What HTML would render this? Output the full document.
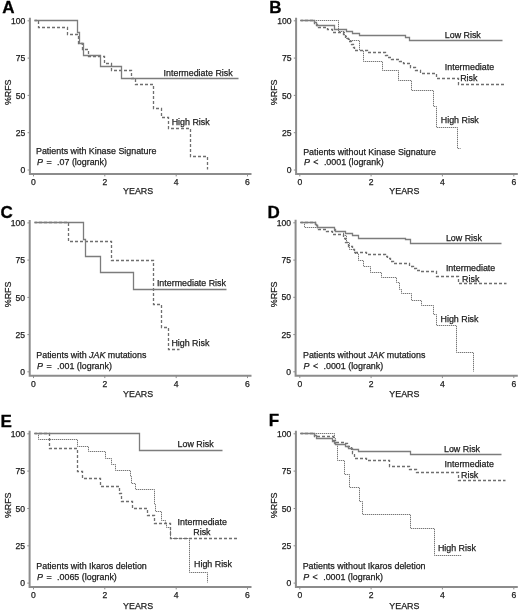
<!DOCTYPE html>
<html><head><meta charset="utf-8"><style>
html,body{margin:0;padding:0;background:#fff;}
svg{display:block;filter:grayscale(1);}
text{font-family:"Liberation Sans",sans-serif;fill:#1c1c1c;stroke:#1c1c1c;stroke-width:0.25px;}
</style></head><body>
<svg width="520" height="611" viewBox="0 0 520 611">
<rect width="520" height="611" fill="#fff"/>
<g>
<path d="M29.9,17.8V174.0H251.5" fill="none" stroke="#8c8c8c" stroke-width="2.0"/>
<path d="M27.6,170.0H29.9" stroke="#8c8c8c" stroke-width="1"/>
<text x="25.3" y="173.1" font-size="8.6" text-anchor="end" >0</text>
<path d="M27.6,132.7H29.9" stroke="#8c8c8c" stroke-width="1"/>
<text x="25.3" y="135.8" font-size="8.6" text-anchor="end" >25</text>
<path d="M27.6,95.4H29.9" stroke="#8c8c8c" stroke-width="1"/>
<text x="25.3" y="98.5" font-size="8.6" text-anchor="end" >50</text>
<path d="M27.6,58.1H29.9" stroke="#8c8c8c" stroke-width="1"/>
<text x="25.3" y="61.2" font-size="8.6" text-anchor="end" >75</text>
<path d="M27.6,20.8H29.9" stroke="#8c8c8c" stroke-width="1"/>
<text x="25.3" y="23.9" font-size="8.6" text-anchor="end" >100</text>
<path d="M33.5,174.0V176.4" stroke="#8c8c8c" stroke-width="1"/>
<text x="33.5" y="184.5" font-size="8.6" text-anchor="middle" >0</text>
<path d="M104.8,174.0V176.4" stroke="#8c8c8c" stroke-width="1"/>
<text x="104.8" y="184.5" font-size="8.6" text-anchor="middle" >2</text>
<path d="M176.2,174.0V176.4" stroke="#8c8c8c" stroke-width="1"/>
<text x="176.2" y="184.5" font-size="8.6" text-anchor="middle" >4</text>
<path d="M247.5,174.0V176.4" stroke="#8c8c8c" stroke-width="1"/>
<text x="247.5" y="184.5" font-size="8.6" text-anchor="middle" >6</text>
<text x="138.1" y="194.2" font-size="8.9" text-anchor="middle" >YEARS</text>
<text x="11.1" y="92.3" font-size="8.9" text-anchor="middle" transform="rotate(-90 11.1 92.3)">%RFS</text>
<path d="M296.1,17.8V174.0H517.8" fill="none" stroke="#8c8c8c" stroke-width="2.0"/>
<path d="M293.8,170.0H296.1" stroke="#8c8c8c" stroke-width="1"/>
<text x="291.5" y="173.1" font-size="8.6" text-anchor="end" >0</text>
<path d="M293.8,132.7H296.1" stroke="#8c8c8c" stroke-width="1"/>
<text x="291.5" y="135.8" font-size="8.6" text-anchor="end" >25</text>
<path d="M293.8,95.4H296.1" stroke="#8c8c8c" stroke-width="1"/>
<text x="291.5" y="98.5" font-size="8.6" text-anchor="end" >50</text>
<path d="M293.8,58.1H296.1" stroke="#8c8c8c" stroke-width="1"/>
<text x="291.5" y="61.2" font-size="8.6" text-anchor="end" >75</text>
<path d="M293.8,20.8H296.1" stroke="#8c8c8c" stroke-width="1"/>
<text x="291.5" y="23.9" font-size="8.6" text-anchor="end" >100</text>
<path d="M299.8,174.0V176.4" stroke="#8c8c8c" stroke-width="1"/>
<text x="299.8" y="184.5" font-size="8.6" text-anchor="middle" >0</text>
<path d="M371.1,174.0V176.4" stroke="#8c8c8c" stroke-width="1"/>
<text x="371.1" y="184.5" font-size="8.6" text-anchor="middle" >2</text>
<path d="M442.4,174.0V176.4" stroke="#8c8c8c" stroke-width="1"/>
<text x="442.4" y="184.5" font-size="8.6" text-anchor="middle" >4</text>
<path d="M513.8,174.0V176.4" stroke="#8c8c8c" stroke-width="1"/>
<text x="513.8" y="184.5" font-size="8.6" text-anchor="middle" >6</text>
<text x="404.4" y="194.2" font-size="8.9" text-anchor="middle" >YEARS</text>
<text x="277.3" y="92.3" font-size="8.9" text-anchor="middle" transform="rotate(-90 277.3 92.3)">%RFS</text>
<path d="M29.7,219.9V375.7H251.5" fill="none" stroke="#8c8c8c" stroke-width="2.0"/>
<path d="M27.4,371.8H29.7" stroke="#8c8c8c" stroke-width="1"/>
<text x="25.1" y="374.9" font-size="8.6" text-anchor="end" >0</text>
<path d="M27.4,334.6H29.7" stroke="#8c8c8c" stroke-width="1"/>
<text x="25.1" y="337.7" font-size="8.6" text-anchor="end" >25</text>
<path d="M27.4,297.4H29.7" stroke="#8c8c8c" stroke-width="1"/>
<text x="25.1" y="300.5" font-size="8.6" text-anchor="end" >50</text>
<path d="M27.4,260.1H29.7" stroke="#8c8c8c" stroke-width="1"/>
<text x="25.1" y="263.2" font-size="8.6" text-anchor="end" >75</text>
<path d="M27.4,222.9H29.7" stroke="#8c8c8c" stroke-width="1"/>
<text x="25.1" y="226.0" font-size="8.6" text-anchor="end" >100</text>
<path d="M33.5,375.7V378.1" stroke="#8c8c8c" stroke-width="1"/>
<text x="33.5" y="386.6" font-size="8.6" text-anchor="middle" >0</text>
<path d="M104.8,375.7V378.1" stroke="#8c8c8c" stroke-width="1"/>
<text x="104.8" y="386.6" font-size="8.6" text-anchor="middle" >2</text>
<path d="M176.2,375.7V378.1" stroke="#8c8c8c" stroke-width="1"/>
<text x="176.2" y="386.6" font-size="8.6" text-anchor="middle" >4</text>
<path d="M247.5,375.7V378.1" stroke="#8c8c8c" stroke-width="1"/>
<text x="247.5" y="386.6" font-size="8.6" text-anchor="middle" >6</text>
<text x="138.1" y="397.1" font-size="8.9" text-anchor="middle" >YEARS</text>
<text x="10.9" y="294.4" font-size="8.9" text-anchor="middle" transform="rotate(-90 10.9 294.4)">%RFS</text>
<path d="M295.6,219.8V375.7H517.8" fill="none" stroke="#8c8c8c" stroke-width="2.0"/>
<path d="M293.3,371.8H295.6" stroke="#8c8c8c" stroke-width="1"/>
<text x="291.0" y="374.9" font-size="8.6" text-anchor="end" >0</text>
<path d="M293.3,334.6H295.6" stroke="#8c8c8c" stroke-width="1"/>
<text x="291.0" y="337.7" font-size="8.6" text-anchor="end" >25</text>
<path d="M293.3,297.3H295.6" stroke="#8c8c8c" stroke-width="1"/>
<text x="291.0" y="300.4" font-size="8.6" text-anchor="end" >50</text>
<path d="M293.3,260.1H295.6" stroke="#8c8c8c" stroke-width="1"/>
<text x="291.0" y="263.2" font-size="8.6" text-anchor="end" >75</text>
<path d="M293.3,222.8H295.6" stroke="#8c8c8c" stroke-width="1"/>
<text x="291.0" y="225.9" font-size="8.6" text-anchor="end" >100</text>
<path d="M299.8,375.7V378.1" stroke="#8c8c8c" stroke-width="1"/>
<text x="299.8" y="386.6" font-size="8.6" text-anchor="middle" >0</text>
<path d="M371.1,375.7V378.1" stroke="#8c8c8c" stroke-width="1"/>
<text x="371.1" y="386.6" font-size="8.6" text-anchor="middle" >2</text>
<path d="M442.4,375.7V378.1" stroke="#8c8c8c" stroke-width="1"/>
<text x="442.4" y="386.6" font-size="8.6" text-anchor="middle" >4</text>
<path d="M513.8,375.7V378.1" stroke="#8c8c8c" stroke-width="1"/>
<text x="513.8" y="386.6" font-size="8.6" text-anchor="middle" >6</text>
<text x="404.4" y="397.1" font-size="8.9" text-anchor="middle" >YEARS</text>
<text x="276.8" y="294.3" font-size="8.9" text-anchor="middle" transform="rotate(-90 276.8 294.3)">%RFS</text>
<path d="M29.6,430.8V587.0H251.5" fill="none" stroke="#8c8c8c" stroke-width="2.0"/>
<path d="M27.3,583.1H29.6" stroke="#8c8c8c" stroke-width="1"/>
<text x="25.0" y="586.2" font-size="8.6" text-anchor="end" >0</text>
<path d="M27.3,545.8H29.6" stroke="#8c8c8c" stroke-width="1"/>
<text x="25.0" y="548.9" font-size="8.6" text-anchor="end" >25</text>
<path d="M27.3,508.5H29.6" stroke="#8c8c8c" stroke-width="1"/>
<text x="25.0" y="511.6" font-size="8.6" text-anchor="end" >50</text>
<path d="M27.3,471.1H29.6" stroke="#8c8c8c" stroke-width="1"/>
<text x="25.0" y="474.2" font-size="8.6" text-anchor="end" >75</text>
<path d="M27.3,433.8H29.6" stroke="#8c8c8c" stroke-width="1"/>
<text x="25.0" y="436.9" font-size="8.6" text-anchor="end" >100</text>
<path d="M33.5,587.0V589.4" stroke="#8c8c8c" stroke-width="1"/>
<text x="33.5" y="598.1" font-size="8.6" text-anchor="middle" >0</text>
<path d="M104.8,587.0V589.4" stroke="#8c8c8c" stroke-width="1"/>
<text x="104.8" y="598.1" font-size="8.6" text-anchor="middle" >2</text>
<path d="M176.2,587.0V589.4" stroke="#8c8c8c" stroke-width="1"/>
<text x="176.2" y="598.1" font-size="8.6" text-anchor="middle" >4</text>
<path d="M247.5,587.0V589.4" stroke="#8c8c8c" stroke-width="1"/>
<text x="247.5" y="598.1" font-size="8.6" text-anchor="middle" >6</text>
<text x="138.1" y="609.0" font-size="8.9" text-anchor="middle" >YEARS</text>
<text x="10.8" y="505.3" font-size="8.9" text-anchor="middle" transform="rotate(-90 10.8 505.3)">%RFS</text>
<path d="M295.9,430.8V587.0H517.8" fill="none" stroke="#8c8c8c" stroke-width="2.0"/>
<path d="M293.6,583.1H295.9" stroke="#8c8c8c" stroke-width="1"/>
<text x="291.3" y="586.2" font-size="8.6" text-anchor="end" >0</text>
<path d="M293.6,545.8H295.9" stroke="#8c8c8c" stroke-width="1"/>
<text x="291.3" y="548.9" font-size="8.6" text-anchor="end" >25</text>
<path d="M293.6,508.5H295.9" stroke="#8c8c8c" stroke-width="1"/>
<text x="291.3" y="511.6" font-size="8.6" text-anchor="end" >50</text>
<path d="M293.6,471.1H295.9" stroke="#8c8c8c" stroke-width="1"/>
<text x="291.3" y="474.2" font-size="8.6" text-anchor="end" >75</text>
<path d="M293.6,433.8H295.9" stroke="#8c8c8c" stroke-width="1"/>
<text x="291.3" y="436.9" font-size="8.6" text-anchor="end" >100</text>
<path d="M299.8,587.0V589.4" stroke="#8c8c8c" stroke-width="1"/>
<text x="299.8" y="598.1" font-size="8.6" text-anchor="middle" >0</text>
<path d="M371.1,587.0V589.4" stroke="#8c8c8c" stroke-width="1"/>
<text x="371.1" y="598.1" font-size="8.6" text-anchor="middle" >2</text>
<path d="M442.4,587.0V589.4" stroke="#8c8c8c" stroke-width="1"/>
<text x="442.4" y="598.1" font-size="8.6" text-anchor="middle" >4</text>
<path d="M513.8,587.0V589.4" stroke="#8c8c8c" stroke-width="1"/>
<text x="513.8" y="598.1" font-size="8.6" text-anchor="middle" >6</text>
<text x="404.4" y="609.0" font-size="8.9" text-anchor="middle" >YEARS</text>
<text x="277.1" y="505.3" font-size="8.9" text-anchor="middle" transform="rotate(-90 277.1 505.3)">%RFS</text>
<text x="2.2" y="13.1" font-size="17" font-weight="bold" style="fill:#000;stroke:#000;stroke-width:0.3px">A</text>
<text x="269.2" y="13.1" font-size="17" font-weight="bold" style="fill:#000;stroke:#000;stroke-width:0.3px">B</text>
<text x="0.4" y="217.6" font-size="17" font-weight="bold" style="fill:#000;stroke:#000;stroke-width:0.3px">C</text>
<text x="267.5" y="218.3" font-size="17" font-weight="bold" style="fill:#000;stroke:#000;stroke-width:0.3px">D</text>
<text x="0.6" y="426.5" font-size="17" font-weight="bold" style="fill:#000;stroke:#000;stroke-width:0.3px">E</text>
<text x="268.8" y="426.2" font-size="17" font-weight="bold" style="fill:#000;stroke:#000;stroke-width:0.3px">F</text>
<text x="163.6" y="75.7" font-size="8.9" text-anchor="start" >Intermediate Risk</text>
<text x="171.7" y="124.8" font-size="8.9" text-anchor="start" >High Risk</text>
<text x="36.0" y="154.2" font-size="8.9" text-anchor="start" >Patients with Kinase Signature</text>
<text x="444.8" y="37.9" font-size="8.9" text-anchor="start" >Low Risk</text>
<text x="444.8" y="70.2" font-size="8.9" text-anchor="start" >Intermediate</text>
<text x="460.2" y="81.2" font-size="8.9" text-anchor="start" >Risk</text>
<text x="440.8" y="123.3" font-size="8.9" text-anchor="start" >High Risk</text>
<text x="303.2" y="154.6" font-size="8.9" text-anchor="start" >Patients without Kinase Signature</text>
<text x="156.9" y="286.3" font-size="8.9" text-anchor="start" >Intermediate Risk</text>
<text x="171.4" y="345.8" font-size="8.9" text-anchor="start" >High Risk</text>
<text x="36.3" y="357.7" font-size="8.9" text-anchor="start" >Patients with <tspan font-style="italic">JAK</tspan> mutations</text>
<text x="445.9" y="240.5" font-size="8.9" text-anchor="start" >Low Risk</text>
<text x="445.9" y="270.8" font-size="8.9" text-anchor="start" >Intermediate</text>
<text x="462.1" y="281.6" font-size="8.9" text-anchor="start" >Risk</text>
<text x="440.5" y="321.9" font-size="8.9" text-anchor="start" >High Risk</text>
<text x="303.0" y="357.9" font-size="8.9" text-anchor="start" >Patients without <tspan font-style="italic">JAK</tspan> mutations</text>
<text x="177.6" y="447.2" font-size="8.9" text-anchor="start" >Low Risk</text>
<text x="177.6" y="524.7" font-size="8.9" text-anchor="start" >Intermediate</text>
<text x="193.3" y="534.6" font-size="8.9" text-anchor="start" >Risk</text>
<text x="194.0" y="567.0" font-size="8.9" text-anchor="start" >High Risk</text>
<text x="36.3" y="569.4" font-size="8.9" text-anchor="start" >Patients with Ikaros deletion</text>
<text x="444.0" y="452.3" font-size="8.9" text-anchor="start" >Low Risk</text>
<text x="444.6" y="467.1" font-size="8.9" text-anchor="start" >Intermediate</text>
<text x="461.0" y="477.9" font-size="8.9" text-anchor="start" >Risk</text>
<text x="437.9" y="550.9" font-size="8.9" text-anchor="start" >High Risk</text>
<text x="302.7" y="569.4" font-size="8.9" text-anchor="start" >Patients without Ikaros deletion</text>
<text x="37.1" y="165.0" font-size="8.9" text-anchor="start" font-style="italic">P</text>
<text x="46.5" y="165.0" font-size="8.9" text-anchor="start" >=</text>
<text x="57.1" y="165.0" font-size="8.9" text-anchor="start" >.07 (logrank)</text>
<text x="303.9" y="165.0" font-size="8.9" text-anchor="start" font-style="italic">P</text>
<text x="313.3" y="165.0" font-size="8.9" text-anchor="start" >&lt;</text>
<text x="323.9" y="165.0" font-size="8.9" text-anchor="start" >.0001 (logrank)</text>
<text x="37.1" y="369.0" font-size="8.9" text-anchor="start" font-style="italic">P</text>
<text x="46.5" y="369.0" font-size="8.9" text-anchor="start" >=</text>
<text x="57.1" y="369.0" font-size="8.9" text-anchor="start" >.001 (logrank)</text>
<text x="303.5" y="369.2" font-size="8.9" text-anchor="start" font-style="italic">P</text>
<text x="312.9" y="369.2" font-size="8.9" text-anchor="start" >&lt;</text>
<text x="323.5" y="369.2" font-size="8.9" text-anchor="start" >.0001 (logrank)</text>
<text x="37.1" y="580.0" font-size="8.9" text-anchor="start" font-style="italic">P</text>
<text x="46.5" y="580.0" font-size="8.9" text-anchor="start" >=</text>
<text x="57.1" y="580.0" font-size="8.9" text-anchor="start" >.0065 (logrank)</text>
<text x="303.2" y="580.0" font-size="8.9" text-anchor="start" font-style="italic">P</text>
<text x="312.6" y="580.0" font-size="8.9" text-anchor="start" >&lt;</text>
<text x="323.2" y="580.0" font-size="8.9" text-anchor="start" >.0001 (logrank)</text>
<path d="M300.5,20.5H338.5V31.5H344.5V35.5H346.5V38.5H349.5V40.5H359.5V50.5H363.5V61.5H382.5V70.5H398.5V80.5H411.5V90.5H433.5V106.5H436.5V127.5H457.5V148.5H460.5" fill="none" stroke="#d2d2d2" stroke-width="1"/>
<path d="M300.5,20.5H338.5V31.5H344.5V35.5H346.5V38.5H349.5V40.5H359.5V50.5H363.5V61.5H382.5V70.5H398.5V80.5H411.5V90.5H433.5V106.5H436.5V127.5H457.5V148.5H460.5" fill="none" stroke="#777777" stroke-width="1" stroke-dasharray="1 1" stroke-dashoffset="0.5"/>
<path d="M300.5,222.5H304.5V227.5H334.5V231.5H343.5V235.5H346.5V242.5H349.5V249.5H354.5V253.5H358.5V260.5H363.5V266.5H370.5V272.5H381.5V277.5H396.5V282.5H399.5V289.5H401.5V293.5H411.5V300.5H421.5V305.5H433.5V314.5H436.5V325.5H456.5V352.5H473.5V371.5H473.5" fill="none" stroke="#d2d2d2" stroke-width="1"/>
<path d="M300.5,222.5H304.5V227.5H334.5V231.5H343.5V235.5H346.5V242.5H349.5V249.5H354.5V253.5H358.5V260.5H363.5V266.5H370.5V272.5H381.5V277.5H396.5V282.5H399.5V289.5H401.5V293.5H411.5V300.5H421.5V305.5H433.5V314.5H436.5V325.5H456.5V352.5H473.5V371.5H473.5" fill="none" stroke="#777777" stroke-width="1" stroke-dasharray="1 1" stroke-dashoffset="0.5"/>
<path d="M34.5,433.5H38.5V439.5H77.5V446.5H88.5V451.5H105.5V458.5H111.5V464.5H115.5V470.5H130.5V476.5H131.5V483.5H135.5V489.5H154.5V504.5H155.5V511.5H161.5V520.5H165.5V522.5H166.5V527.5H170.5V538.5H189.5V572.5H207.5V582.5H207.5" fill="none" stroke="#d2d2d2" stroke-width="1"/>
<path d="M34.5,433.5H38.5V439.5H77.5V446.5H88.5V451.5H105.5V458.5H111.5V464.5H115.5V470.5H130.5V476.5H131.5V483.5H135.5V489.5H154.5V504.5H155.5V511.5H161.5V520.5H165.5V522.5H166.5V527.5H170.5V538.5H189.5V572.5H207.5V582.5H207.5" fill="none" stroke="#777777" stroke-width="1" stroke-dasharray="1 1" stroke-dashoffset="0.5"/>
<path d="M300.5,433.5H334.5V438.5H335.5V444.5H337.5V460.5H344.5V474.5H349.5V487.5H359.5V501.5H362.5V514.5H410.5V528.5H434.5V555.5H461.5" fill="none" stroke="#d2d2d2" stroke-width="1"/>
<path d="M300.5,433.5H334.5V438.5H335.5V444.5H337.5V460.5H344.5V474.5H349.5V487.5H359.5V501.5H362.5V514.5H410.5V528.5H434.5V555.5H461.5" fill="none" stroke="#777777" stroke-width="1" stroke-dasharray="1 1" stroke-dashoffset="0.5"/>
<path d="M34.5,20.5H38.5V27.5H67.5V34.5H78.5V43.5H82.5V49.5H88.5V56.5H104.5V63.5H111.5V70.5H131.5V78.5H135.5V84.5H153.5V108.5H161.5V117.5H168.5V128.5H190.5V156.5H207.5V169.5H207.5" fill="none" stroke="#6e6e6e" stroke-width="1.3" stroke-dasharray="3 2" stroke-dashoffset="0.5"/>
<path d="M300.5,20.5H314.5V23.5H316.5V25.5H318.5V27.5H327.5V29.5H332.5V32.5H343.5V34.5H345.5V38.5H348.5V41.5H351.5V44.5H353.5V47.5H354.5V50.5H367.5V52.5H385.5V55.5H387.5V57.5H391.5V59.5H399.5V61.5H403.5V63.5H410.5V67.5H415.5V70.5H420.5V73.5H436.5V78.5H458.5V84.5H504.5" fill="none" stroke="#6e6e6e" stroke-width="1.3" stroke-dasharray="3 2" stroke-dashoffset="0.5"/>
<path d="M34.5,222.5H68.5V241.5H111.5V260.5H153.5V304.5H161.5V327.5H168.5V349.5H179.5" fill="none" stroke="#6e6e6e" stroke-width="1.3" stroke-dasharray="3 2" stroke-dashoffset="0.5"/>
<path d="M300.5,222.5H315.5V225.5H317.5V227.5H318.5V229.5H326.5V231.5H332.5V234.5H343.5V238.5H345.5V242.5H348.5V246.5H352.5V249.5H354.5V252.5H366.5V254.5H385.5V256.5H387.5V258.5H390.5V261.5H393.5V263.5H409.5V266.5H413.5V268.5H416.5V270.5H420.5V271.5H436.5V276.5H458.5V283.5H506.5" fill="none" stroke="#6e6e6e" stroke-width="1.3" stroke-dasharray="3 2" stroke-dashoffset="0.5"/>
<path d="M34.5,433.5H49.5V448.5H77.5V471.5H82.5V478.5H100.5V486.5H119.5V493.5H121.5V501.5H132.5V508.5H147.5V515.5H154.5V523.5H170.5V538.5H238.5" fill="none" stroke="#6e6e6e" stroke-width="1.3" stroke-dasharray="3 2" stroke-dashoffset="0.5"/>
<path d="M300.5,433.5H314.5V436.5H333.5V440.5H335.5V442.5H344.5V443.5H347.5V446.5H351.5V450.5H352.5V453.5H354.5V458.5H366.5V460.5H389.5V466.5H409.5V469.5H416.5V472.5H458.5V480.5H505.5" fill="none" stroke="#6e6e6e" stroke-width="1.3" stroke-dasharray="3 2" stroke-dashoffset="0.5"/>
<path d="M34.5,20.5H77.5V32.5H79.5V43.5H83.5V55.5H100.5V66.5H121.5V78.5H238.5" fill="none" stroke="#7c7c7c" stroke-width="1.3"/>
<path d="M300.5,20.5H314.5V22.5H316.5V24.5H317.5V25.5H334.5V29.5H346.5V31.5H352.5V33.5H359.5V35.5H405.5V37.5H409.5V40.5H502.5" fill="none" stroke="#7c7c7c" stroke-width="1.3"/>
<path d="M34.5,222.5H83.5V239.5H85.5V256.5H100.5V272.5H133.5V289.5H226.5" fill="none" stroke="#7c7c7c" stroke-width="1.3"/>
<path d="M300.5,222.5H315.5V224.5H316.5V225.5H317.5V227.5H334.5V229.5H335.5V231.5H345.5V233.5H352.5V235.5H358.5V238.5H405.5V239.5H410.5V243.5H501.5" fill="none" stroke="#7c7c7c" stroke-width="1.3"/>
<path d="M34.5,433.5H139.5V450.5H222.5" fill="none" stroke="#7c7c7c" stroke-width="1.3"/>
<path d="M300.5,433.5H314.5V435.5H316.5V438.5H332.5V441.5H334.5V443.5H335.5V444.5H345.5V446.5H348.5V448.5H352.5V449.5H358.5V451.5H410.5V454.5H501.5" fill="none" stroke="#7c7c7c" stroke-width="1.3"/>
</g>
</svg>
</body></html>
